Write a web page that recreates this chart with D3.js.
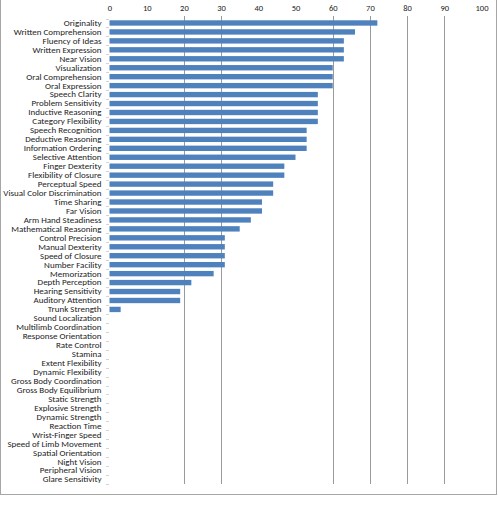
<!DOCTYPE html>
<html>
<head>
<meta charset="utf-8">
<script src="https://cdn.jsdelivr.net/npm/d3@7"></script>
<style>
  body { margin: 0; background: #fff; }
  text { font-family: Calibri, Carlito, "Liberation Sans Narrow", "Liberation Sans", sans-serif; fill: #222; }
</style>
</head>
<body>
<div id="chart"></div>
<script>
// abilities, in the order they are drawn top to bottom
var abilities = [
  "Originality", "Written Comprehension", "Fluency of Ideas", "Written Expression", "Near Vision",
  "Visualization", "Oral Comprehension", "Oral Expression", "Speech Clarity", "Problem Sensitivity",
  "Inductive Reasoning", "Category Flexibility", "Speech Recognition", "Deductive Reasoning",
  "Information Ordering", "Selective Attention", "Finger Dexterity", "Flexibility of Closure",
  "Perceptual Speed", "Visual Color Discrimination", "Time Sharing", "Far Vision",
  "Arm Hand Steadiness", "Mathematical Reasoning", "Control Precision", "Manual Dexterity",
  "Speed of Closure", "Number Facility", "Memorization", "Depth Perception", "Hearing Sensitivity",
  "Auditory Attention", "Trunk Strength", "Sound Localization", "Multilimb Coordination",
  "Response Orientation", "Rate Control", "Stamina", "Extent Flexibility", "Dynamic Flexibility",
  "Gross Body Coordination", "Gross Body Equilibrium", "Static Strength", "Explosive Strength",
  "Dynamic Strength", "Reaction Time", "Wrist-Finger Speed", "Speed of Limb Movement",
  "Spatial Orientation", "Night Vision", "Peripheral Vision", "Glare Sensitivity"
]

var scores = [
  72, 66, 63, 63, 63, 60, 60, 60, 56, 56, 56, 56, 53, 53, 53, 50, 47, 47, 44, 44, 41, 41,
  38, 35, 31, 31, 31, 31, 28, 22, 19, 19, 3, 0, 0, 0, 0, 0, 0, 0, 0, 0, 0, 0, 0, 0, 0, 0, 0, 0, 0, 0
]

var tickValues = [0, 10, 20, 30, 40, 50, 60, 70, 80, 90, 100]
// only these grid lines survive in the picture
var gridValues = [20, 30, 60, 70, 80, 90]

var width = 498
    height = 512
    margin = {top: 18.5, left: 109.5, right: 16.5, bottom: 27.5}

var svg = d3.select("#chart")
  .append("svg")
    .attr("width", width)
    .attr("height", height)

// outer frame
svg.append("rect")
    .attr("x", 0.5)
    .attr("y", -2)
    .attr("width", 496)
    .attr("height", 496.5)
    .attr("fill", "none")
    .attr("stroke", "#a6a6a6")

var x = d3.scaleLinear()
    .domain([0, 100])
    .range([margin.left, 481.5])

var y = d3.scaleBand()
    .domain(abilities)
    .range([margin.top, height - margin.bottom - 0.5])
    .paddingInner(0.4)
    .paddingOuter(0.2)

// grid lines
svg.append("g")
  .selectAll("line")
  .data(gridValues)
  .enter()
  .append("line")
    .attr("x1", function(d){ return Math.round(x(d)) + 0.5 })
    .attr("x2", function(d){ return Math.round(x(d)) + 0.5 })
    .attr("y1", 16)
    .attr("y2", 484)
    .attr("stroke", "#9a9a9a")
    .attr("stroke-width", 1)

// top axis labels
var xAxis = d3.axisTop(x)
    .tickValues(tickValues)
    .tickSize(0)
    .tickPadding(0)
var gx = svg.append("g")
    .attr("transform", "translate(0,11)")
    .call(xAxis)
gx.select(".domain").remove()
gx.selectAll("text")
    .attr("font-size", "8.5px")
    .attr("dy", "0")

// small tick marks on the category axis
var bounds = abilities.map(function(d){ return y(d) - y.step() * y.paddingInner() / 2 })
bounds.push(height - margin.bottom - 0.5)
svg.append("g")
  .selectAll("line")
  .data(bounds)
  .enter()
  .append("line")
    .attr("x1", 106)
    .attr("x2", 109)
    .attr("y1", function(d){ return Math.round(d) + 0.5 })
    .attr("y2", function(d){ return Math.round(d) + 0.5 })
    .attr("stroke", "#d4d4d4")

// category labels
var yAxis = d3.axisLeft(y)
    .tickSize(0)
    .tickPadding(8)
var gy = svg.append("g")
    .attr("transform", "translate(" + margin.left + ",0)")
    .call(yAxis)
gy.select(".domain").remove()
gy.selectAll("text")
    .attr("font-size", "9px")

// bars
svg.append("g")
  .selectAll("rect")
  .data(scores)
  .enter()
  .append("rect")
    .attr("x", x(0))
    .attr("y", function(d, i){ return y(abilities[i]) })
    .attr("width", function(d){ return x(d) - x(0) })
    .attr("height", y.bandwidth())
    .attr("fill", "#4f81bd")
</script>
</body>
</html>
